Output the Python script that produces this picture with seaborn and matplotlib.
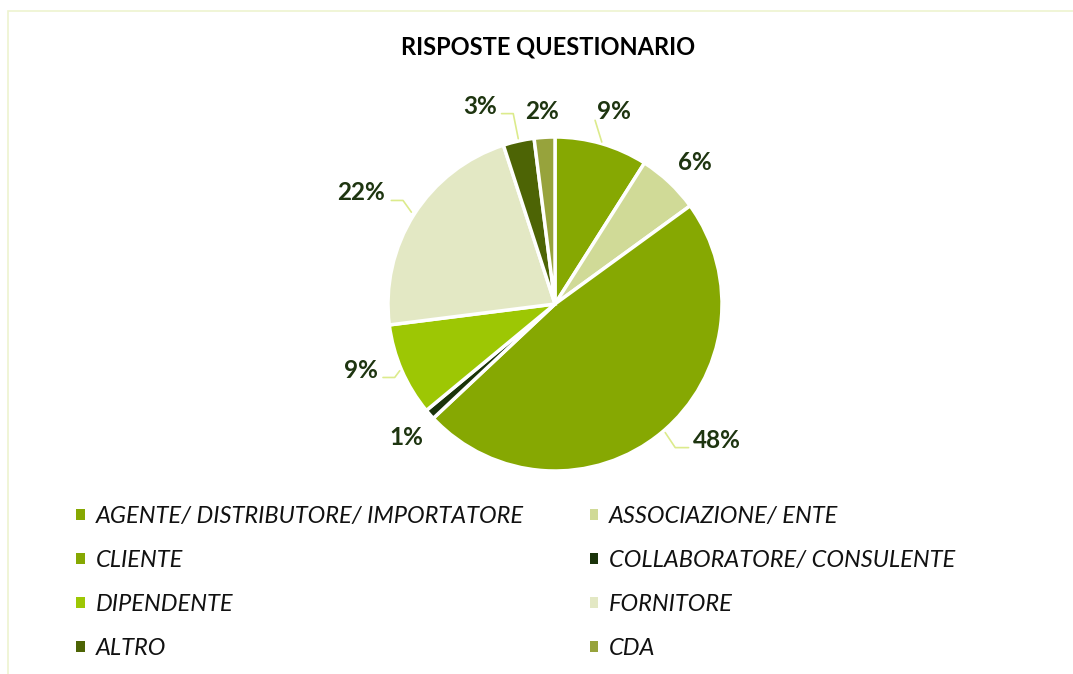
import numpy as np
import matplotlib
matplotlib.use('Agg')
import matplotlib.pyplot as plt
import matplotlib.patches as mpatches
import seaborn as sns

# data
categories = ['AGENTE/ DISTRIBUTORE/ IMPORTATORE', 'ASSOCIAZIONE/ ENTE', 'CLIENTE',
              'COLLABORATORE/ CONSULENTE', 'DIPENDENTE', 'FORNITORE', 'ALTRO', 'CDA']
shares = [9, 6, 48, 1, 9, 22, 3, 2]
pct_labels = ['9%', '6%', '48%', '1%', '9%', '22%', '3%', '2%']
colors = ['#86A802', '#D0DA97', '#86A802', '#1A330A', '#9DC704', '#E3E8C4', '#4D6405', '#97A33C']

# label placement (pie units) and leader lines
label_pos = [(0.35, 1.15), (0.84, 0.85), (0.97, -0.82), (-0.89, -0.80),
             (-1.16, -0.40), (-1.16, 0.67), (-0.45, 1.18), (-0.08, 1.15)]
leaders = [
    [(0.24, 1.10), (0.28, 0.97)],
    [(0.80, -0.86), (0.72, -0.86), (0.66, -0.77)],
    [(-1.03, -0.44), (-0.96, -0.44), (-0.93, -0.40)],
    [(-0.98, 0.62), (-0.91, 0.62), (-0.86, 0.55)],
    [(-0.32, 1.14), (-0.25, 1.14), (-0.22, 0.99)],
]

sns.set_theme(style='white')
plt.rcParams['font.family'] = ['Lato', 'DejaVu Sans']

W, H = 1073, 674
fig = plt.figure(figsize=(W / 100, H / 100), dpi=100)

# thin frame like the spreadsheet chart area
fig.patches.append(mpatches.Rectangle((8 / W, -0.05), 1.2, (H - 11) / H + 0.05,
                                      transform=fig.transFigure, fill=False,
                                      edgecolor='#EEF3CF', linewidth=1.2))

cx, cy, r = 555, 304, 167
ax = fig.add_axes([(cx - r) / W, (H - cy - r) / H, 2 * r / W, 2 * r / H])
wedges, _ = ax.pie(shares, colors=colors, startangle=90, counterclock=False,
                   wedgeprops=dict(edgecolor='white', linewidth=2.5))
ax.set_xlim(-1, 1)
ax.set_ylim(-1, 1)
ax.set_aspect('equal')
ax.axis('off')

for lbl, (x, y) in zip(pct_labels, label_pos):
    ax.text(x, y, lbl, ha='center', va='center', fontsize=17.5, fontweight='bold',
            color='#1E3510', clip_on=False)
for pts in leaders:
    xs, ys = zip(*pts)
    ax.plot(xs, ys, color='#DCEB8C', linewidth=1.2, clip_on=False)

fig.text(548 / W, 1 - 47 / H, 'RISPOSTE QUESTIONARIO', ha='center', va='center',
         fontsize=17, fontweight='bold', color='black')

# legend filled row-wise like the original
order = [0, 2, 4, 6, 1, 3, 5, 7]
handles = [mpatches.Patch(facecolor=colors[i], edgecolor='none') for i in order]
labels = [categories[i] for i in order]
leg = fig.legend(handles, labels, ncol=2, loc='upper left',
                 bbox_to_anchor=(55 / W, 1 - 485 / H), frameon=False,
                 prop=dict(family='Lato', style='italic', size=17),
                 handlelength=0.36, handleheight=0.36, handletextpad=0.45,
                 columnspacing=2.8, labelspacing=0.97)
for t in leg.get_texts():
    t.set_color('#111111')

fig.savefig('out.png', dpi=100, facecolor='white')
